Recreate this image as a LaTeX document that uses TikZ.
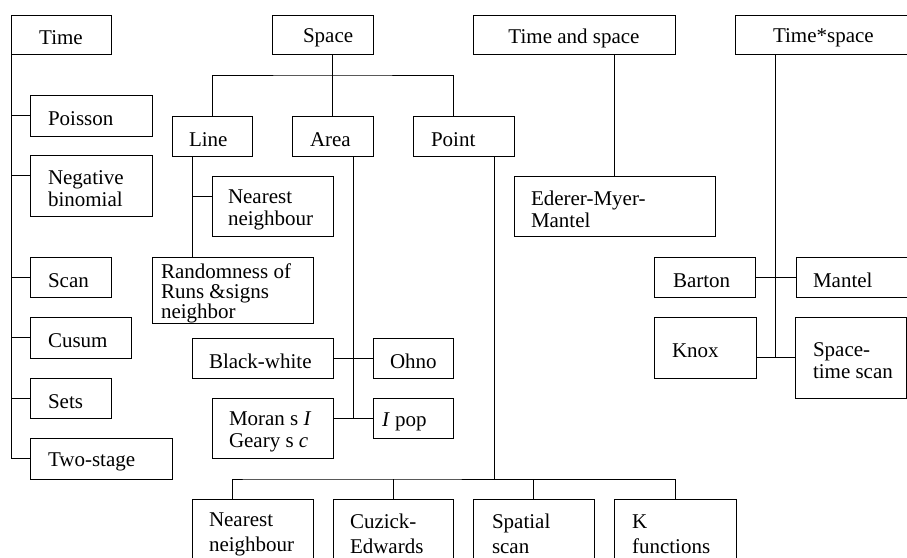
\documentclass[tikz,border=0pt]{standalone}
\usepackage{fontspec}
\setmainfont{Liberation Serif}
\usetikzlibrary{calc}
\tikzset{
  bx/.style={draw,line width=0.9pt,inner xsep=0pt,inner ysep=0pt,outer sep=0pt,
    font=\fontsize{21}{22}\selectfont,anchor=north west},
  bot/.style={font=\fontsize{21}{25}\selectfont},
  tight/.style={font=\fontsize{21}{20}\selectfont},
  conn/.style={line width=0.9pt}
}
\newcommand\lowerby{-3.5pt}
\newcommand\bx[8][]{\node[bx,minimum width=#5pt,minimum height=#6pt,#1] (#2) at (#3,#4)
  {\raisebox{\lowerby}[\height][\depth]{\hspace*{#7pt}\parbox{\dimexpr#5pt-#7pt\relax}{\raggedright #8}}};}
\begin{document}
\begin{tikzpicture}[x=1pt,y=-1pt]
\useasboundingbox (0,0) rectangle (907,557);
\clip (0,0) rectangle (907,557);
% Time column
\bx{time}{11}{15}{100}{39}{0}{\centering Time}
\bx{poisson}{30}{95}{122}{41}{18}{Poisson}
\bx{negbin}{30}{155}{122}{61}{18}{Negative\\binomial}
\bx{scan}{30}{257}{81}{40}{18}{Scan}
\bx{cusum}{30}{317}{101}{41}{18}{Cusum}
\bx{sets}{30}{378}{81}{40}{18}{Sets}
\bx{twostage}{30}{438}{142}{41}{18}{Two-stage}
% Space
\bx{space}{272}{15}{101}{39}{31}{Space}
\bx{line}{172}{116}{80}{40}{17}{Line}
\bx{area}{292}{116}{81}{40}{18}{Area}
\bx{point}{413}{116}{101}{40}{18}{Point}
\bx{nnl}{212}{176}{121}{60}{16}{Nearest\\neighbour}
\bx[tight]{rand}{152}{257}{161}{66}{9}{Randomness of\\Runs \&signs\\neighbor}
\bx{bw}{192}{338}{141}{40}{17}{Black-white}
\bx{ohno}{373}{338}{80}{40}{17}{Ohno}
\bx{moran}{212}{398}{121}{60}{17}{Moran s \textit{I}\\Geary s \textit{c}}
\bx{ipop}{373}{398}{80}{40}{9}{\textit{I} pop}
\renewcommand\lowerby{0pt}
\bx[bot]{nnp}{192}{499}{121}{70}{17}{Nearest\\neighbour}
\bx[bot]{cuz}{333}{499}{120}{70}{17}{Cuzick-\\Edwards}
\bx[bot]{spat}{473}{499}{121}{70}{19}{Spatial\\scan}
\bx[bot]{kfun}{614}{499}{122}{70}{18}{K\\functions}
\renewcommand\lowerby{-3.5pt}
% Time and space
\bx{tas}{473}{15}{202}{39}{0}{\centering Time and space}
\bx{ederer}{514}{176}{201}{60}{17}{Ederer-Myer-\\Mantel}
% Time*space
\bx{tstar}{735}{15}{200}{39}{38}{Time*space}
\bx{barton}{654}{257}{101}{40}{19}{Barton}
\bx{mantel}{796}{257}{150}{40}{17}{Mantel}
\bx{knox}{654}{317}{102}{61}{18}{Knox}
\bx{stscan}{795}{317}{111.5}{81}{18}{Space-\\time scan}

% connectors: Time
\draw[conn] (time.south west) |- (twostage.west);
\foreach \n in {poisson,scan,cusum,sets} \draw[conn] (\n.west) -- (\n.west -| time.west);
\draw[conn] ($(negbin.north west)+(0,20)$) coordinate (nbc) -- (nbc -| time.west);
% Space
\coordinate (sbar) at ($(area.north)+(0,-41)$);
\coordinate (ptop) at ($(point.north west)+(40,0)$);
\draw[conn] (space.south -| area.north) -- (area.north);
\draw[conn] (line.north) |- (sbar) -| (ptop);
% Line
\coordinate (lv) at ($(line.south west)+(20,0)$);
\draw[conn] (lv) -- (lv |- rand.north);
\draw[conn] ($(nnl.north west)+(0,20)$) coordinate (nnlc) -- (nnlc -| lv);
% Area
\coordinate (am) at ($(bw.east)!.5!(ohno.west)$);
\draw[conn] (am |- area.south) -- (am |- ipop.west);
\draw[conn] (bw.east) -- (ohno.west);
\draw[conn] (ipop.west) -- (ipop.west -| moran.east);
% Point
\coordinate (pbot) at ($(point.south east)+(-20,0)$);
\coordinate (pbar) at ($(nnp.north)+(0,-20)$);
\coordinate (nnpt) at ($(nnp.north west)+(40,0)$);
\draw[conn] (pbot) -- (pbot |- pbar);
\draw[conn] (nnpt) |- (pbar) -| (kfun.north);
\draw[conn] (cuz.north) -- (cuz.north |- pbar);
\draw[conn] (spat.north) -- (spat.north |- pbar);
% Time and space
\draw[conn] (ederer.north) -- (ederer.north |- tas.south);
% Time*space
\coordinate (tm) at ($(barton.east)!.5!(mantel.west)$);
\draw[conn] (tm |- tstar.south) -- (tm |- stscan.west);
\draw[conn] (barton.east) -- (mantel.west);
\draw[conn] (knox.east |- stscan.west) -- (stscan.west);
\end{tikzpicture}
\end{document}
